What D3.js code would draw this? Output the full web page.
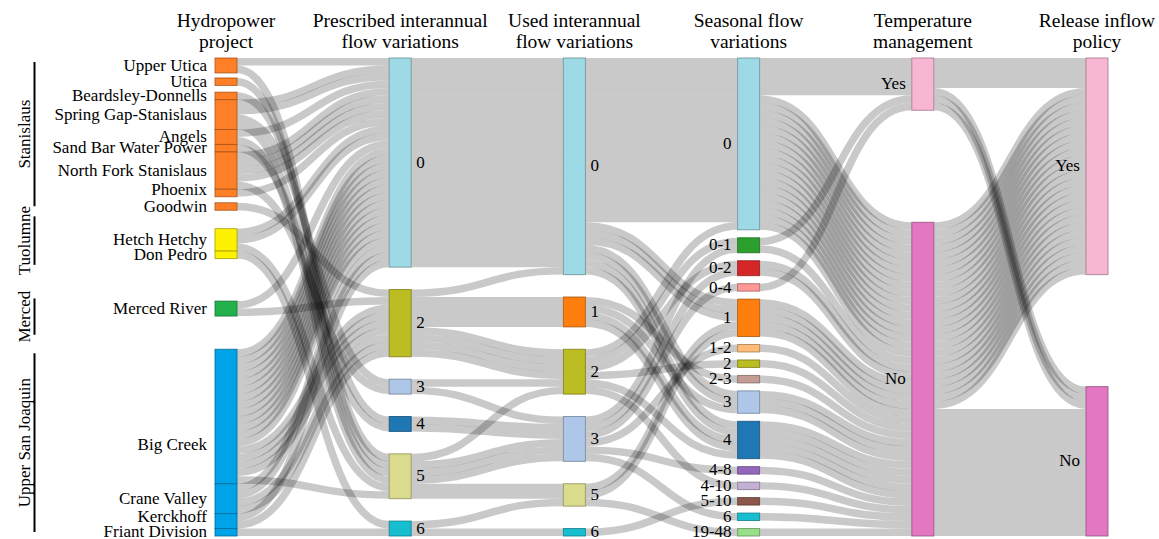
<!DOCTYPE html>
<html>
<head>
<meta charset="utf-8">
<script src="https://cdn.jsdelivr.net/npm/d3@7"></script>
<style>
body { margin: 0; background: #fff; }
</style>
</head>
<body>
<script>
// ---- categories ----
var projects = ["Upper Utica", "Utica", "Beardsley-Donnells", "Spring Gap-Stanislaus", "Angels",
    "Sand Bar Water Power", "North Fork Stanislaus", "Phoenix", "Goodwin", "Hetch Hetchy", "Don Pedro",
    "Merced River", "Big Creek", "Crane Valley", "Kerckhoff", "Friant Division"];
var projectBasin = ["Stanislaus", "Stanislaus", "Stanislaus", "Stanislaus", "Stanislaus", "Stanislaus",
    "Stanislaus", "Stanislaus", "Stanislaus", "Tuolumne", "Tuolumne", "Merced",
    "Upper San Joaquin", "Upper San Joaquin", "Upper San Joaquin", "Upper San Joaquin"];
var basins = ["Stanislaus", "Tuolumne", "Merced", "Upper San Joaquin"];
var prescribedLevels = ["0", "2", "3", "4", "5", "6"];
var usedLevels = ["0", "1", "2", "3", "5", "6"];
var seasonalLevels = ["0", "0-1", "0-2", "0-4", "1", "1-2", "2", "2-3", "3", "4", "4-8", "4-10", "5-10", "6", "19-48"];
var yesNo = ["Yes", "No"];

// ---- one entry per licence (49) ----
var recProject = [
    "Upper Utica", "Upper Utica", "Utica", "Beardsley-Donnells",
    "Spring Gap-Stanislaus", "Spring Gap-Stanislaus", "Spring Gap-Stanislaus", "Spring Gap-Stanislaus",
    "Angels", "Angels", "Sand Bar Water Power",
    "North Fork Stanislaus", "North Fork Stanislaus", "North Fork Stanislaus", "North Fork Stanislaus", "North Fork Stanislaus",
    "Phoenix", "Goodwin", "Hetch Hetchy", "Hetch Hetchy", "Hetch Hetchy", "Don Pedro",
    "Merced River", "Merced River",
    "Big Creek", "Big Creek", "Big Creek", "Big Creek", "Big Creek", "Big Creek", "Big Creek", "Big Creek", "Big Creek",
    "Big Creek", "Big Creek", "Big Creek", "Big Creek", "Big Creek", "Big Creek", "Big Creek", "Big Creek", "Big Creek",
    "Crane Valley", "Crane Valley", "Crane Valley", "Crane Valley", "Kerckhoff", "Kerckhoff", "Friant Division"];
var recPrescribed = ["0", "5", "5", "4", "0", "0", "3", "5", "0", "5", "4", "0", "0", "0", "0", "3", "0", "2",
    "0", "0", "5", "6", "0", "2",
    "0", "0", "0", "0", "0", "0", "0", "0", "0", "0", "0", "0", "0", "2", "2", "2", "2", "5",
    "0", "0", "2", "2", "0", "2", "6"];
var recUsed = ["0", "3", "3", "3", "0", "0", "2", "3", "0", "5", "3", "0", "0", "0", "0", "3", "0", "1",
    "0", "0", "2", "5", "0", "0",
    "0", "0", "0", "0", "0", "0", "0", "0", "0", "0", "0", "0", "0", "1", "1", "1", "2", "5",
    "0", "0", "2", "2", "0", "2", "6"];
var recSeasonal = ["0", "1-2", "4-8", "0-2", "0", "0", "0-1", "6", "0", "1", "0-4", "0", "0", "0", "0", "0-1", "0", "2-3",
    "0", "0", "0", "19-48", "0", "0",
    "1", "1", "1", "3", "3", "4", "4", "0", "0", "0", "0", "0", "0", "3", "4", "4", "0-2", "1",
    "0", "0", "2", "4", "0", "4-10", "5-10"];
var recTemperature = ["Yes", "No", "No", "No", "Yes", "Yes", "Yes", "No", "Yes", "No", "Yes", "Yes", "No", "No", "No", "No", "No", "No",
    "No", "No", "No", "No", "No", "No",
    "No", "No", "No", "No", "No", "No", "No", "No", "No", "No", "No", "No", "No", "No", "No", "No", "No", "No",
    "No", "No", "No", "No", "No", "No", "No"];
var recRelease = ["Yes", "Yes", "Yes", "Yes", "Yes", "Yes", "No", "Yes", "Yes", "Yes", "No", "No", "Yes", "Yes", "Yes", "Yes", "Yes", "Yes",
    "Yes", "Yes", "Yes", "Yes", "Yes", "Yes",
    "Yes", "Yes", "Yes", "Yes", "Yes", "Yes", "Yes", "No", "No", "No", "No", "No", "No", "No", "No", "No", "No", "Yes",
    "No", "No", "No", "No", "No", "No", "No"];

// ---- styles ----
var basinColor = {"Stanislaus": "#ff7f27", "Tuolumne": "#fff200", "Merced": "#22b14c", "Upper San Joaquin": "#00a2e8"};
var levelColor = {"0": "#9edae5", "1": "#ff7f0e", "2": "#bcbd22", "3": "#aec7e8", "4": "#1f77b4", "5": "#dbdb8d",
    "6": "#17becf", "0-1": "#2ca02c", "0-2": "#d62728", "0-4": "#ff9896", "1-2": "#ffbb78", "2-3": "#c49c94",
    "4-8": "#9467bd", "4-10": "#c5b0d5", "5-10": "#8c564b", "19-48": "#98df8a", "Yes": "#f7b6d2", "No": "#e377c2"};
var hydroGaps = [5, 6.7, 0, 0, 0, 0, 0, 6, 18.3, 0, 42.3, 33, 0, 0, 0];   // relative spacing in first column
var labelNudge = {"Big Creek": 28, "Kerckhoff": -4, "Phoenix": -3};
var basinNudge = {"Tuolumne": -3, "Merced": 8};
var serif = "'Liberation Serif', 'DejaVu Serif', 'Times New Roman', serif";

var w = 1159, h = 539;
var yTop = 58, yBottom = 536, pad = 8, nodeW = 22;

var svg = d3.select("body").append("svg")
    .attr("width", w)
    .attr("height", h)
    .style("font-family", serif);

var columns = [
    {title: ["Hydropower", "project"], nodes: projects, rec: recProject, side: "left", off: 8},
    {title: ["Prescribed interannual", "flow variations"], nodes: prescribedLevels, rec: recPrescribed, side: "right", off: 5},
    {title: ["Used interannual", "flow variations"], nodes: usedLevels, rec: recUsed, side: "right", off: 5},
    {title: ["Seasonal flow", "variations"], nodes: seasonalLevels, rec: recSeasonal, side: "left", off: 6},
    {title: ["Temperature", "management"], nodes: yesNo, rec: recTemperature, side: "left", off: 6},
    {title: ["Release inflow", "policy"], nodes: yesNo, rec: recRelease, side: "left", off: 6}
];

var x = d3.scalePoint().domain(d3.range(columns.length)).range([215, 1086]);
var n = recProject.length;
var ky = d3.min(columns.slice(1), function(c){ return (yBottom - yTop - (c.nodes.length - 1) * pad) / n; });
var hScale = d3.scaleLinear().domain([0, n]).range([0, n * ky]);

var allNodes = [];
columns.forEach(function(c, ci){
    var counts = d3.rollup(c.rec, function(v){ return v.length; }, function(d){ return d; });
    var free = yBottom - yTop - hScale(n);
    var gaps = ci === 0
        ? hydroGaps.map(function(g){ return g / d3.sum(hydroGaps) * free; })
        : c.nodes.slice(1).map(function(){ return free / (c.nodes.length - 1); });
    var y = yTop;
    c.nodeObjs = c.nodes.map(function(name, i){
        if (i > 0) y += gaps[i - 1];
        var node = {name: name, col: ci, value: counts.get(name) || 0,
            x0: x(ci), x1: x(ci) + nodeW, y0: y, srcLinks: [], tgtLinks: []};
        y += hScale(node.value);
        node.y1 = y;
        node.color = ci === 0 ? basinColor[projectBasin[i]] : levelColor[name];
        allNodes.push(node);
        return node;
    });
    c.byName = new Map(c.nodeObjs.map(function(d){ return [d.name, d]; }));
});

// one strand per licence between neighbouring columns
var links = [];
for (var ci = 0; ci < columns.length - 1; ci++) {
    for (var i = 0; i < n; i++) {
        var s = columns[ci].byName.get(columns[ci].rec[i]);
        var t = columns[ci + 1].byName.get(columns[ci + 1].rec[i]);
        var l = {source: s, target: t, index: i};
        s.srcLinks.push(l);
        t.tgtLinks.push(l);
        links.push(l);
    }
}
allNodes.forEach(function(node){
    node.srcLinks.sort(function(a, b){ return a.target.y0 - b.target.y0 || a.index - b.index; });
    var y = node.y0;
    node.srcLinks.forEach(function(l){ l.y0 = y + ky / 2; y += ky; });
    node.tgtLinks.sort(function(a, b){ return a.source.y0 - b.source.y0 || a.index - b.index; });
    y = node.y0;
    node.tgtLinks.forEach(function(l){ l.y1 = y + ky / 2; y += ky; });
});

var linkPath = d3.linkHorizontal()
    .source(function(d){ return [d.source.x1, d.y0]; })
    .target(function(d){ return [d.target.x0, d.y1]; });

svg.append("g")
    .attr("fill", "none")
    .selectAll("path")
    .data(links)
    .enter().append("path")
    .attr("d", linkPath)
    .attr("stroke", "#000")
    .attr("stroke-opacity", 0.21)
    .attr("stroke-width", ky);

svg.append("g")
    .selectAll("rect")
    .data(allNodes.filter(function(d){ return d.value > 0; }))
    .enter().append("rect")
    .attr("x", function(d){ return d.x0; })
    .attr("y", function(d){ return d.y0; })
    .attr("width", nodeW)
    .attr("height", function(d){ return d.y1 - d.y0; })
    .attr("fill", function(d){ return d.color; })
    .attr("stroke", function(d){ return d3.rgb(d.color).darker(1.2); })
    .attr("stroke-opacity", 0.8)
    .attr("stroke-width", 1);

// node labels
svg.append("g")
    .attr("font-size", 17)
    .attr("font-family", serif)
    .selectAll("text")
    .data(allNodes)
    .enter().append("text")
    .attr("x", function(d){
        var c = columns[d.col];
        return c.side === "left" ? d.x0 - c.off : d.x1 + c.off;
    })
    .attr("y", function(d){ return (d.y0 + d.y1) / 2 + (labelNudge[d.name] && d.col === 0 ? labelNudge[d.name] : 0); })
    .attr("dy", "0.3em")
    .attr("text-anchor", function(d){ return columns[d.col].side === "left" ? "end" : "start"; })
    .text(function(d){ return d.name; });

// column headers
var head = svg.append("g").attr("font-size", 19.5).attr("font-family", serif).attr("text-anchor", "middle");
columns.forEach(function(c, ci){
    c.title.forEach(function(line, li){
        head.append("text")
            .attr("x", x(ci) + nodeW / 2)
            .attr("y", 27 + li * 21)
            .text(line);
    });
});

// basin brackets
var bg = svg.append("g").attr("font-family", serif);
basins.forEach(function(b){
    var nodes = columns[0].nodeObjs.filter(function(d, i){ return projectBasin[i] === b; });
    var b0 = d3.min(nodes, function(d){ return d.y0; });
    var b1 = d3.max(nodes, function(d){ return d.y1; });
    var cy = (b0 + b1) / 2 + (basinNudge[b] || 0);
    var txt = bg.append("text")
        .attr("font-size", 17)
        .attr("text-anchor", "middle")
        .attr("transform", "translate(30," + cy + ") rotate(-90)")
        .text(b);
    var len = Math.max(b1 - b0 - 8, txt.node().getComputedTextLength() * 0.7);
    bg.append("line")
        .attr("x1", 34.5).attr("x2", 34.5)
        .attr("y1", cy - len / 2).attr("y2", cy + len / 2)
        .attr("stroke", "#000")
        .attr("stroke-width", 2);
});
</script>
</body>
</html>
